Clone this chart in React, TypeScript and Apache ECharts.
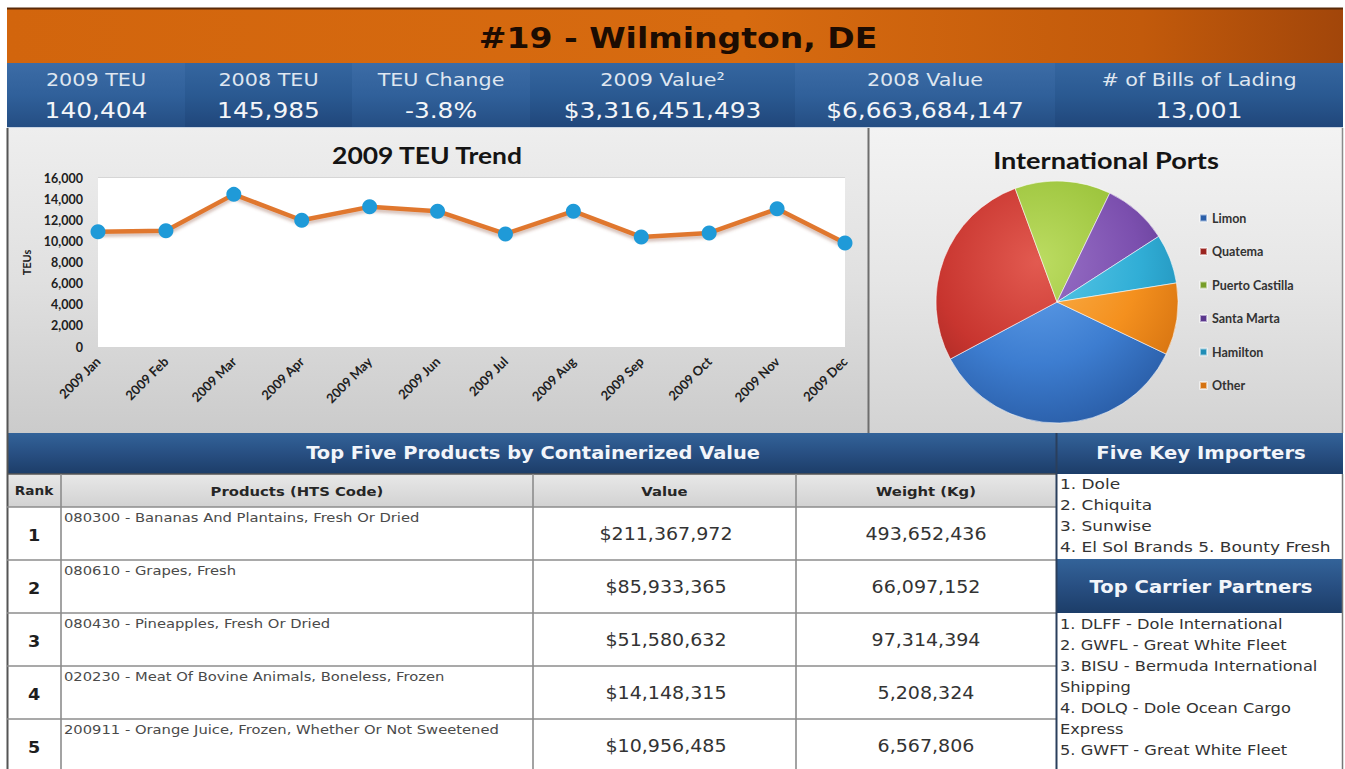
import React, { useEffect, useRef } from "react";
import * as echarts from "echarts";

// ---------- DATA ----------
const months = ["2009 Jan", "2009 Feb", "2009 Mar", "2009 Apr", "2009 May", "2009 Jun", "2009 Jul", "2009 Aug", "2009 Sep", "2009 Oct", "2009 Nov", "2009 Dec"];
const teuValues = [10900, 11000, 14450, 12000, 13270, 12860, 10700, 12860, 10420, 10800, 13080, 9850];
const yMax = 16000;
const yInterval = 2000;

const portNames = ["Limon", "Quatema", "Puerto Castilla", "Santa Marta", "Hamilton", "Other"];
const portShares = [35.1, 27.2, 12.8, 8.7, 6.6, 9.6];

const pageTitle = "#19 - Wilmington, DE";
const statLabels = ["2009 TEU", "2008 TEU", "TEU Change", "2009 Value²", "2008 Value", "# of Bills of Lading"];
const statValues = ["140,404", "145,985", "-3.8%", "$3,316,451,493", "$6,663,684,147", "13,001"];

const tableTitle = "Top Five Products by Containerized Value";
const tableHeaders = ["Rank", "Products (HTS Code)", "Value", "Weight (Kg)"];
const ranks = ["1", "2", "3", "4", "5"];
const products = [
  "080300 - Bananas And Plantains, Fresh Or Dried",
  "080610 - Grapes, Fresh",
  "080430 - Pineapples, Fresh Or Dried",
  "020230 - Meat Of Bovine Animals, Boneless, Frozen",
  "200911 - Orange Juice, Frozen, Whether Or Not Sweetened",
];
const productValues = ["$211,367,972", "$85,933,365", "$51,580,632", "$14,148,315", "$10,956,485"];
const productWeights = ["493,652,436", "66,097,152", "97,314,394", "5,208,324", "6,567,806"];

const importersTitle = "Five Key Importers";
const importers = ["1. Dole", "2. Chiquita", "3. Sunwise", "4. El Sol Brands 5. Bounty Fresh"];
const carriersTitle = "Top Carrier Partners";
const carriers = [
  "1. DLFF - Dole International",
  "2. GWFL - Great White Fleet",
  "3. BISU - Bermuda International",
  "Shipping",
  "4. DOLQ - Dole Ocean Cargo",
  "Express",
  "5. GWFT - Great White Fleet",
];

// ---------- STYLE ----------
const pieColors = [
  ["#63a2ec", "#3d7dd0", "#2a5ea8"],
  ["#e25a50", "#c8352f", "#9a2420"],
  ["#bcdc62", "#9cc43c", "#779e28"],
  ["#9a72c8", "#7b4fae", "#5a378c"],
  ["#5ccae8", "#31aed6", "#1f8db6"],
  ["#fab24e", "#f4901e", "#d57210"],
];

const VER = "DejaVu Sans";
const CAL = "Lato";

function vgrad(stops: [number, string][]) {
  return { type: "linear", x: 0, y: 0, x2: 0, y2: 1, colorStops: stops.map(([o, c]) => ({ offset: o, color: c })) };
}
function hgrad(stops: [number, string][]) {
  return { type: "linear", x: 0, y: 0, x2: 1, y2: 0, colorStops: stops.map(([o, c]) => ({ offset: o, color: c })) };
}

function buildGraphics() {
  const g: any[] = [];
  const L = 7;
  const R = 1343;
  const rect = (x: number, y: number, w: number, h: number, fill: any, z = -10) =>
    g.push({ type: "rect", shape: { x, y, width: w, height: h }, style: { fill }, z, silent: true });
  const line = (x1: number, y1: number, x2: number, y2: number, stroke: string, lw = 1, z = -5) =>
    g.push({ type: "line", shape: { x1, y1, x2, y2 }, style: { stroke, lineWidth: lw }, z, silent: true });
  const text = (x: number, y: number, t: string, o: any, sx = 1.13) =>
    g.push({
      type: "text",
      x,
      y,
      scaleX: sx,
      z: 100,
      silent: true,
      style: { text: t, align: "center", verticalAlign: "middle", ...o },
    });

  // title bar
  rect(L, 8, R - L, 55, hgrad([[0, "#d2650d"], [0.55, "#d76b10"], [0.85, "#c25a0b"], [1, "#a2460a"]]));
  line(L, 8.5, R, 8.5, "#5a2a08", 2);
  text(678, 38, pageTitle, { fontFamily: VER, fontWeight: "bold", fontSize: 29, fill: "#1c0c02" }, 1.14);

  // stat bar
  const cols = [L, 185, 352, 530, 795, 1055, R];
  for (let i = 0; i < 6; i++) {
    const fill = i % 2 === 0
      ? vgrad([[0, "#3c6ca6"], [0.5, "#30609a"], [1, "#244d82"]])
      : vgrad([[0, "#3566a0"], [0.5, "#2a5991"], [1, "#20467a"]]);
    rect(cols[i], 63, cols[i + 1] - cols[i], 65, fill);
    const cx = (cols[i] + cols[i + 1]) / 2;
    text(cx, 80, statLabels[i], { fontFamily: VER, fontSize: 18.5, fill: "#dfe6f0" }, 1.12);
    text(cx, 111, statValues[i], { fontFamily: VER, fontSize: 22, fill: "#f4f6f9" }, 1.13);
  }
  line(L, 127.5, R, 127.5, "#c9d4e2", 1);

  // middle panels
  rect(L, 128, 861, 305, vgrad([[0, "#eeeeee"], [0.5, "#e0e0e0"], [1, "#cbcbcb"]]));
  rect(869, 128, R - 869, 305, vgrad([[0, "#f3f3f3"], [0.5, "#e6e6e6"], [1, "#d3d3d3"]]));
  line(868.5, 128, 868.5, 433, "#6e6e6e", 2);
  line(L + 0.5, 128, L + 0.5, 769, "#555555", 2);
  line(R - 0.5, 128, R - 0.5, 433, "#8a8a8a", 1.5);

  text(427, 155, "2009 TEU Trend", { fontFamily: CAL, fontWeight: "bold", fontSize: 23, fill: "#141414" }, 1.15);
  text(1106, 160, "International Ports", { fontFamily: CAL, fontWeight: "bold", fontSize: 23, fill: "#141414" }, 1.18);

  // bottom blue headers
  const blue = vgrad([[0, "#336399"], [0.5, "#284f82"], [1, "#1c3d68"]]);
  rect(L, 433, 1057 - L, 41, blue);
  rect(1057, 433, R - 1057, 41, blue);
  line(1056.5, 433, 1056.5, 769, "#2a3f5c", 2, 50);
  text(533, 453, tableTitle, { fontFamily: VER, fontWeight: "bold", fontSize: 17.5, fill: "#f2f5fa" }, 1.11);
  text(1201, 453, importersTitle, { fontFamily: VER, fontWeight: "bold", fontSize: 17.5, fill: "#f2f5fa" }, 1.12);

  // table header row
  const tx = [L, 61, 533, 796, 1056];
  rect(L, 474, 1056 - L, 33, vgrad([[0, "#e8e8e8"], [1, "#d2d2d2"]]));
  for (let c = 0; c < 4; c++) {
    const cx = (tx[c] + tx[c + 1]) / 2;
    text(cx, 491, tableHeaders[c], { fontFamily: VER, fontWeight: "bold", fontSize: c === 0 ? 12 : 13, fill: "#262626" }, 1.14);
  }
  // data rows
  const rowTop = [507, 560, 613, 666, 719];
  rect(L, 507, 1056 - L, 262, "#ffffff");
  for (let r = 0; r < 5; r++) {
    const y0 = rowTop[r];
    text(34, y0 + 28, ranks[r], { fontFamily: VER, fontWeight: "bold", fontSize: 16, fill: "#1e1e1e" }, 1.1);
    text(64, y0 + 10, products[r], { fontFamily: VER, fontSize: 12.5, fill: "#4a4a4a", align: "left" }, 1.18);
    text(666, y0 + 27, productValues[r], { fontFamily: VER, fontSize: 17, fill: "#333333" }, 1.12);
    text(926, y0 + 27, productWeights[r], { fontFamily: VER, fontSize: 17, fill: "#333333" }, 1.12);
    line(L, y0, 1056, y0, "#8c8c8c", 1.6, 40);
  }
  line(L, 474, 1056, 474, "#555555", 1.5, 40);
  for (let c = 1; c < 4; c++) line(tx[c], 474, tx[c], 769, "#8c8c8c", 1.6, 40);

  // right lists
  rect(1057, 474, R - 1057, 85, "#ffffff");
  importers.forEach((t, i) =>
    text(1060, 484 + i * 21, t, { fontFamily: VER, fontSize: 14.5, fill: "#333333", align: "left" }, 1.17)
  );
  rect(1057, 559, R - 1057, 54, blue);
  text(1201, 587, carriersTitle, { fontFamily: VER, fontWeight: "bold", fontSize: 17.5, fill: "#f2f5fa" }, 1.12);
  rect(1057, 613, R - 1057, 156, "#ffffff");
  carriers.forEach((t, i) =>
    text(1060, 624 + i * 21, t, { fontFamily: VER, fontSize: 14.5, fill: "#333333", align: "left" }, 1.12)
  );
  line(R - 0.5, 474, R - 0.5, 769, "#777777", 1.5, 40);

  return g;
}

export default function App() {
  const ref = useRef<HTMLDivElement>(null);
  useEffect(() => {
    if (!ref.current) return;
    const chart = echarts.init(ref.current, null, { renderer: "svg" });
    const cx = 1057;
    const cy = 302;
    const option: any = {
      animation: false,
      backgroundColor: "#ffffff",
      graphic: { elements: buildGraphics() },
      grid: {
        left: 98,
        top: 178,
        width: 747,
        height: 169,
        show: true,
        backgroundColor: "#ffffff",
        borderWidth: 0,
        z: 1,
      },
      xAxis: {
        type: "category",
        data: months,
        boundaryGap: false,
        axisLine: { show: false },
        axisTick: { show: false },
        splitLine: { show: false },
        axisLabel: {
          rotate: 45,
          interval: 0,
          margin: 12,
          fontSize: 13,
          fontWeight: "bold",
          fontFamily: CAL,
          color: "#202020",
        },
      },
      yAxis: {
        type: "value",
        min: 0,
        max: yMax,
        interval: yInterval,
        name: "TEUs",
        nameLocation: "middle",
        nameRotate: 90,
        nameGap: 66,
        nameTextStyle: { fontSize: 11, fontWeight: "bold", fontFamily: CAL, color: "#202020" },
        axisLine: { show: false },
        axisTick: { show: false },
        axisLabel: {
          margin: 15,
          fontSize: 12.5,
          fontWeight: "bold",
          fontFamily: CAL,
          color: "#202020",
          formatter: (v: number) => v.toLocaleString("en-US"),
        },
        splitLine: { lineStyle: { color: "#d6d6d6", width: 2 } },
      },
      legend: {
        orient: "vertical",
        left: 1194,
        top: 206,
        itemWidth: 7,
        itemHeight: 7,
        itemGap: 19.5,
        icon: "rect",
        data: portNames,
        textStyle: { fontSize: 12.5, fontWeight: "bold", fontFamily: CAL, color: "#333333", lineHeight: 14 },
      },
      series: [
        {
          type: "line",
          data: teuValues,
          symbol: "circle",
          symbolSize: 15,
          z: 5,
          lineStyle: {
            color: "#e0772e",
            width: 4.5,
            shadowColor: "rgba(140,80,60,0.35)",
            shadowBlur: 3,
            shadowOffsetY: 3,
          },
          itemStyle: { color: "#1f9ad8" },
          emphasis: { disabled: true },
        },
        {
          type: "pie",
          center: [cx, cy],
          radius: 121,
          startAngle: -25.5,
          clockwise: true,
          label: { show: false },
          labelLine: { show: false },
          emphasis: { disabled: true },
          itemStyle: { borderColor: "rgba(255,255,255,0.55)", borderWidth: 1 },
          data: portNames.map((n, i) => ({
            name: n,
            value: portShares[i],
            itemStyle: {
              color: {
                type: "radial",
                x: cx - 20,
                y: cy - 40,
                r: 170,
                global: true,
                colorStops: [
                  { offset: 0, color: pieColors[i][0] },
                  { offset: 0.6, color: pieColors[i][1] },
                  { offset: 1, color: pieColors[i][2] },
                ],
              },
            },
          })),
        },
      ],
    };
    chart.setOption(option);
    return () => chart.dispose();
  }, []);
  return <div ref={ref} style={{ position: "absolute", left: 0, top: 0, width: 1345, height: 769 }} />;
}
